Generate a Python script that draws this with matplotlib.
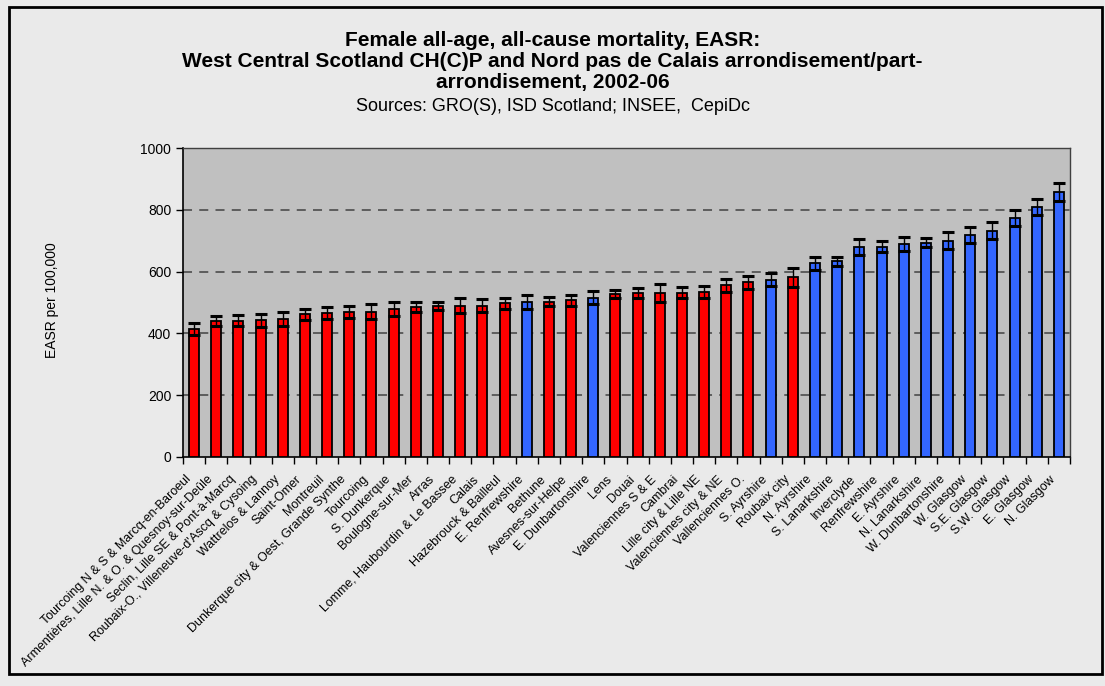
import numpy as np
import matplotlib
matplotlib.use("Agg")
import matplotlib.pyplot as plt
import matplotlib.transforms as mtransforms
from matplotlib.patches import Rectangle

plt.rcParams["font.family"] = ["Liberation Sans", "DejaVu Sans"]

areas = [
    "Tourcoing N & S & Marcq-en-Baroeul",
    "Armentières, Lille N. & O. & Quesnoy-sur-Deûle",
    "Seclin, Lille SE & Pont-à-Marcq",
    "Roubaix-O., Villeneuve-d'Ascq & Cysoing",
    "Wattrelos & Lannoy",
    "Saint-Omer",
    "Montreuil",
    "Dunkerque city & Oest, Grande Synthe",
    "Tourcoing",
    "S. Dunkerque",
    "Boulogne-sur-Mer",
    "Arras",
    "Lomme, Haubourdin & Le Bassee",
    "Calais",
    "Hazebrouck & Bailleul",
    "E. Renfrewshire",
    "Bethune",
    "Avesnes-sur-Helpe",
    "E. Dunbartonshire",
    "Lens",
    "Douai",
    "Valenciennes S & E",
    "Cambrai",
    "Lille city & Lille NE",
    "Valenciennes city & NE",
    "Vallenciennes O.",
    "S. Ayrshire",
    "Roubaix city",
    "N. Ayrshire",
    "S. Lanarkshire",
    "Inverclyde",
    "Renfrewshire",
    "E. Ayrshire",
    "N. Lanarkshire",
    "W. Dunbartonshire",
    "W. Glasgow",
    "S.E. Glasgow",
    "S.W. Glasgow",
    "E. Glasgow",
    "N. Glasgow",
]
# F = Nord pas de Calais, S = West Central Scotland
region = list("FFFFFFFFFFFFFFFSFFSFFFFFFFSFSSSSSSSSSSSS")
easr = [414, 440, 441, 443, 447, 462, 467, 469, 470, 478,
        486, 489, 490, 490, 497, 501, 503, 507, 516, 527,
        530, 531, 532, 534, 556, 565, 573, 581, 627, 633,
        680, 681, 689, 694, 700, 719, 733, 774, 810, 857]
ci = [19, 16, 18, 21, 22, 18, 19, 20, 24, 23,
      17, 12, 25, 22, 18, 22, 15, 18, 21, 13,
      16, 28, 17, 18, 21, 21, 21, 30, 21, 15,
      27, 19, 23, 14, 28, 25, 28, 26, 26, 30]

colours = {"F": "#FF0000", "S": "#3366FF"}

fig = plt.figure(figsize=(11.05, 6.86), dpi=100, facecolor="#EAEAEA")
ax = fig.add_axes([183 / 1105, 1 - 457 / 686, 887 / 1105, 309 / 686])
ax.set_facecolor("#C0C0C0")

x = np.arange(len(areas))
ax.bar(x, easr, width=0.45, color=[colours[r] for r in region],
       edgecolor="black", linewidth=1.3, zorder=3)
ax.errorbar(x, easr, yerr=ci, fmt="none", ecolor="black", elinewidth=1,
            capsize=4.5, capthick=2.2, zorder=4)

ax.set_xlim(-0.5, len(areas) - 0.5)
ax.set_ylim(0, 1000)
ax.set_yticks(range(0, 1001, 200))
ax.tick_params(axis="y", labelsize=10, length=5, width=1, direction="out")
for v in range(200, 1000, 200):
    ax.axhline(v, color="#555555", lw=1.3, ls=(0, (5, 4)), zorder=1)

ax.set_xticks(x)
ax.set_xticklabels(areas, rotation=45, ha="right", rotation_mode="anchor",
                   fontsize=9, va="center")
ax.tick_params(axis="x", length=0, pad=12)
shift = mtransforms.ScaledTranslation(-5 / 100, -4 / 100, fig.dpi_scale_trans)
for lab in ax.get_xticklabels():
    lab.set_transform(lab.get_transform() + shift)
ax.set_xticks(np.arange(-0.5, len(areas), 1), minor=True)
ax.tick_params(axis="x", which="minor", length=5, width=1, direction="out")

for s in ["left", "bottom"]:
    ax.spines[s].set_color("black")
    ax.spines[s].set_linewidth(1.2)
for s in ["top", "right"]:
    ax.spines[s].set_color("#404040")
    ax.spines[s].set_linewidth(1)

fig.text(52 / 1105, 1 - 300 / 686, "EASR per 100,000", rotation=90,
         ha="center", va="center", fontsize=10)

title_lines = ["Female all-age, all-cause mortality, EASR:",
               "West Central Scotland CH(C)P and Nord pas de Calais arrondisement/part-",
               "arrondisement, 2002-06"]
for line, base in zip(title_lines, [46, 67, 88]):
    fig.text(0.5, 1 - base / 686, line, ha="center", va="baseline",
             fontsize=15, fontweight="bold")
fig.text(0.5, 1 - 111 / 686, "Sources: GRO(S), ISD Scotland; INSEE,  CepiDc",
         ha="center", va="baseline", fontsize=13)

fig.patches.append(Rectangle((8.5 / 1105, 1 - 674 / 686), 1093.5 / 1105,
                             667.5 / 686, transform=fig.transFigure,
                             fill=False, edgecolor="black", lw=2))

fig.savefig("out.png", dpi=100, facecolor=fig.get_facecolor())
